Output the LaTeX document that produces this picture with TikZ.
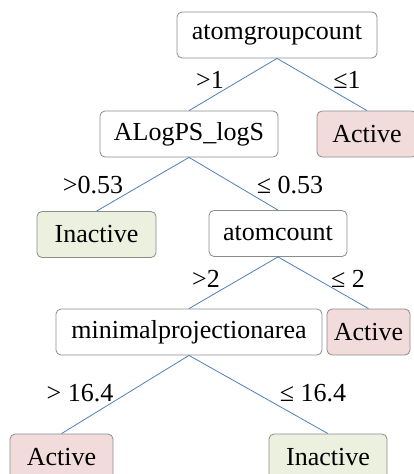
\documentclass[tikz,border=0pt]{standalone}
\usepackage{fontspec}
\setmainfont{Liberation Serif}
\definecolor{edgeblue}{HTML}{4F81BD}
\definecolor{boxgray}{HTML}{8C8C8C}
\definecolor{activefill}{HTML}{F2DCDB}
\definecolor{inactivefill}{HTML}{EBF1DE}
\tikzset{
  treebox/.style={draw=boxgray, line width=0.8pt, rounded corners=5pt, fill=white,
    minimum height=46pt, inner sep=0pt, font=\fontsize{26}{30}\selectfont},
  activebox/.style={treebox, fill=activefill},
  inactivebox/.style={treebox, fill=inactivefill},
  branch/.style={draw=edgeblue, line width=0.8pt},
  cond/.style={inner sep=0pt, font=\fontsize{26}{30}\selectfont}
}
\begin{document}
\begin{tikzpicture}[x=1pt, y=-1pt]
  \clip (0,0) rectangle (414,474);
  \fill[white] (0,0) rectangle (414,474);

  % split nodes and leaves
  \node[treebox, minimum width=200pt] (root) at (277,35) {atomgroupcount};
  \node[treebox, minimum width=178pt] (alogps) at (189,134) {ALogPS\_logS};
  \node[activebox, minimum width=100pt] (act1) at (367,134) {Active};
  \node[inactivebox, minimum width=119pt] (inact1) at (96.5,234.5) {Inactive};
  \node[treebox, minimum width=138pt] (atomc) at (278,233.5) {atomcount};
  \node[treebox, minimum width=266pt] (mpa) at (189,332) {minimalprojectionarea};
  \node[activebox, minimum width=83pt] (act2) at (368.5,332) {Active};
  \node[activebox, minimum width=103pt] (act3) at (61.5,457) {Active};
  \node[inactivebox, minimum width=118pt] (inact2) at (328,457) {Inactive};

  % branches
  \draw[branch] (root.south) -- (alogps.north);
  \draw[branch] (root.south) -- (act1.north);
  \draw[branch] (alogps.south) -- (inact1.north);
  \draw[branch] (alogps.south) -- (atomc.north);
  \draw[branch] (atomc.south) -- (mpa.north);
  \draw[branch] (atomc.south) -- (act2.north);
  \draw[branch] (mpa.south) -- (act3.north);
  \draw[branch] (mpa.south) -- (inact2.north);

  % split conditions
  \node[cond] (c1) at (210,80) {>1};
  \node[cond] (c2) at (347,80) {≤1};
  \node[cond] (c3) at (93,185) {>0.53};
  \node[cond] (c4) at (290,185) {≤ 0.53};
  \node[cond] (c5) at (206,279) {>2};
  \node[cond] (c6) at (348,279) {≤ 2};
  \node[cond] (c7) at (80,393) {> 16.4};
  \node[cond] (c8) at (313,393) {≤ 16.4};
\end{tikzpicture}
\end{document}
